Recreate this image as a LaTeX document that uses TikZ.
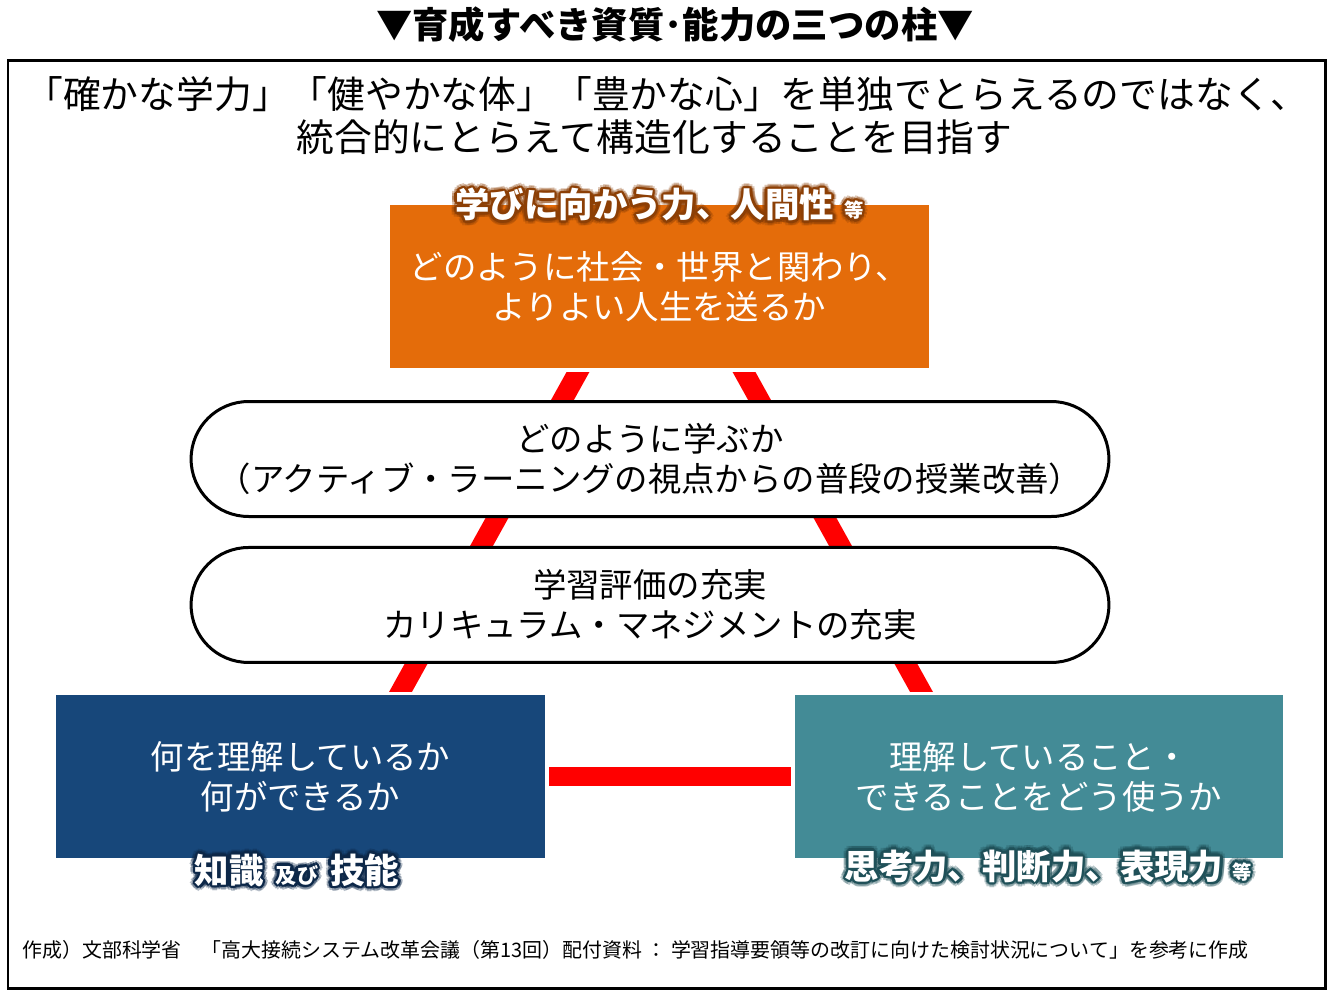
\documentclass[tikz,border=0pt]{standalone}
\usepackage{fontspec}
\setmainfont{Noto Sans CJK JP}
\usetikzlibrary{positioning,backgrounds}

\definecolor{boxorange}{HTML}{E46C0A}
\definecolor{boxblue}{HTML}{17477A}
\definecolor{boxteal}{HTML}{438B96}
\definecolor{gloworange}{HTML}{8C3F05}
\definecolor{glowblue}{HTML}{0C2748}
\definecolor{glowteal}{HTML}{1F5058}

\newcommand{\labtop}{学びに向かう力、人間性\hspace{0.3em}{\fontsize{11pt}{11pt}\selectfont 等}}
\newcommand{\labknow}{知識\hspace{0.35em}{\fontsize{12pt}{12pt}\selectfont 及び}\hspace{0.35em}技能}
\newcommand{\labthink}{思考力、判断力、表現力\hspace{0.25em}{\fontsize{11pt}{11pt}\selectfont 等}}

\begin{document}
\begin{tikzpicture}[x=0.02cm,y=-0.02cm,
    main box/.style={rectangle,minimum width=10.78cm,minimum height=3.26cm,text=white,align=center,font=\fontsize{19pt}{22.8pt}\selectfont},
    pill/.style={rectangle,draw,line width=0.06cm,rounded corners=1.15cm,fill=white,minimum width=18.36cm,minimum height=2.3cm,align=center,font=\fontsize{19pt}{22.8pt}\selectfont},
    glow label/.style={font=\fontsize{19.6pt}{19.6pt}\selectfont\bfseries,inner sep=0pt},
    link/.style={red,line width=0.4cm,shorten <=-0.3cm,shorten >=-0.3cm}]

            \useasboundingbox (0,0) rectangle (1330,992);

            \node[font=\fontsize{20.7pt}{20.7pt}\selectfont\bfseries] (title) at (675,25) {▼育成すべき資質･能力の三つの柱▼};
            \draw[line width=0.06cm] (8,60) rectangle (1325,988);
            \node[align=center,font=\fontsize{21.5pt}{24.5pt}\selectfont] (intro) at (667,116) {「確かな学力」「健やかな体」「豊かな心」を単独でとらえるのではなく、\\統合的にとらえて構造化することを目指す\hspace*{0.5cm}};

            \node[main box, fill=boxorange] (top) at (659.5,286.5) {どのように社会・世界と関わり、\\よりよい人生を送るか};
            \node[pill] (how) at (650,459) {どのように学ぶか\\（アクティブ・ラーニングの視点からの普段の授業改善）};
            \node[pill] (eval) [below=0.56cm of how] {学習評価の充実\\カリキュラム・マネジメントの充実};
            \node[main box, minimum width=9.78cm, fill=boxblue] (know) at (300.5,776.5) {何を理解しているか\\何ができるか};
            \node[main box, minimum width=9.76cm, fill=boxteal] (think) at (1039,776.5) {理解していること・\\できることをどう使うか};

            \begin{scope}[on background layer]
                \clip (0,372) rectangle (1330,691);
                \draw[link] ([xshift=-1.59cm]top.south) to ([xshift=1.97cm]know.north);
                \draw[link] ([xshift=1.65cm]top.south) to ([xshift=-2.32cm]think.north);
            \end{scope}
            \draw[link, line width=0.38cm, shorten <=0.08cm, shorten >=0.08cm] (know) to (think);

            \foreach \a in {0,30,...,330}{
                \path (top.north) ++(\a:5) node[glow label, text=gloworange, opacity=0.3] (og\a) {\labtop};
                \path (top.north) ++(\a:2.5) node[glow label, text=gloworange] (oh\a) {\labtop};
                \path ([xshift=-0.07cm,yshift=-0.24cm]know.south) ++(\a:5) node[glow label, text=glowblue, opacity=0.3] (bg\a) {\labknow};
                \path ([xshift=-0.07cm,yshift=-0.24cm]know.south) ++(\a:2.5) node[glow label, text=glowblue] (bh\a) {\labknow};
                \path ([xshift=0.18cm,yshift=-0.16cm]think.south) ++(\a:5) node[glow label, text=glowteal, opacity=0.3] (tg\a) {\labthink};
                \path ([xshift=0.18cm,yshift=-0.16cm]think.south) ++(\a:2.5) node[glow label, text=glowteal] (th\a) {\labthink};
            }
            \node[glow label, text=white] (olab) at (top.north) {\labtop};
            \node[glow label, text=white] (blab) at ([xshift=-0.07cm,yshift=-0.24cm]know.south) {\labknow};
            \node[glow label, text=white] (tlab) at ([xshift=0.18cm,yshift=-0.16cm]think.south) {\labthink};

            \node[anchor=west,inner sep=0pt,font=\fontsize{11.35pt}{11.35pt}\selectfont] (src) at (22,950) {作成）文部科学省　「高大接続システム改革会議（第13回）配付資料 ： 学習指導要領等の改訂に向けた検討状況について」を参考に作成};

        \end{tikzpicture}
\end{document}
